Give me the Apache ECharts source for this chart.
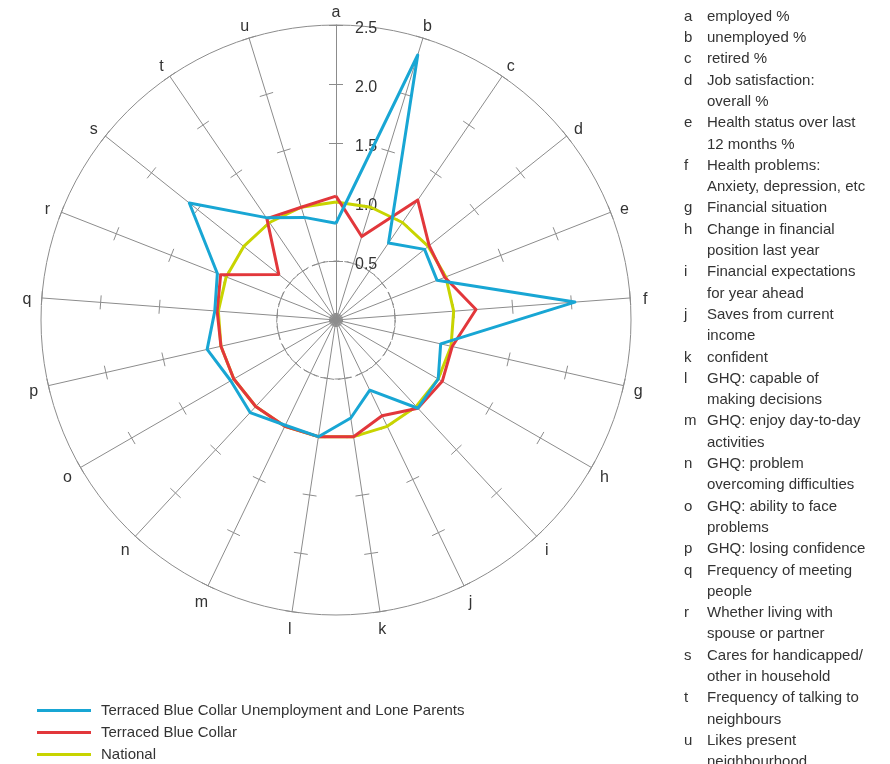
<!DOCTYPE html>
<html>
<head>
<meta charset="utf-8">
<script src="https://cdn.jsdelivr.net/npm/echarts@6/dist/echarts.min.js"></script>
<style>
  html, body { margin: 0; padding: 0; background: #fff; }
  #chart { width: 890px; height: 764px; }
</style>
</head>
<body>
<div id="chart"></div>
<script>
  // axis keys, clockwise from the top
  var axisKeys = ['a','b','c','d','e','f','g','h','i','j','k','l','m','n','o','p','q','r','s','t','u'];
  var axisDescs = [
    'employed %', 'unemployed %', 'retired %', 'Job satisfaction:\noverall %',
    'Health status over last\n12 months %', 'Health problems:\nAnxiety, depression, etc',
    'Financial situation', 'Change in financial\nposition last year',
    'Financial expectations\nfor year ahead', 'Saves from current\nincome', 'confident',
    'GHQ: capable of\nmaking decisions', 'GHQ: enjoy day-to-day\nactivities',
    'GHQ: problem\novercoming difficulties', 'GHQ: ability to face\nproblems',
    'GHQ: losing confidence', 'Frequency of meeting\npeople', 'Whether living with\nspouse or partner',
    'Cares for handicapped/\nother in household', 'Frequency of talking to\nneighbours',
    'Likes present\nneighbourhood'
  ];
  var seriesNames = ['Terraced Blue Collar Unemployment and Lone Parents', 'Terraced Blue Collar', 'National'];
  var blueValues = [0.82, 2.35, 0.79, 0.96, 0.92, 2.03, 0.91, 1.0, 1.02, 0.66, 0.84, 1.0, 0.99, 1.07, 1.03, 1.12, 1.03, 1.08, 1.59, 1.05, 0.91];
  var redValues  = [1.05, 0.74, 1.23, 1.01, 0.99, 1.19, 1.01, 1.04, 1.02, 0.9, 1.0, 1.0, 1.0, 1.0, 1.0, 1.0, 1.01, 1.05, 0.62, 1.04, 1.0];
  var nationalValues = [1, 1, 1, 1, 1, 1, 1, 1, 1, 1, 1, 1, 1, 1, 1, 1, 1, 1, 1, 1, 1];
  var seriesColors = ['#18a6d4', '#e2373b', '#c8d400'];
  var maxValue = 2.5;

  var FONT = 'Liberation Sans';
  var GREY = '#8c8c8c';
  var CLEAR = 'rgba(0,0,0,0)';

  // radar runs anticlockwise, so feed it a, u, t, ... b
  var order = [0];
  for (var i = axisKeys.length - 1; i > 0; i--) order.push(i);
  function reorder(arr) { return order.map(function (k) { return arr[k]; }); }

  var indicators = reorder(axisKeys).map(function (k, idx) {
    var ind = { name: k, max: maxValue, min: 0 };
    if (idx === 0) {
      // scale numbers only on axis a, to the right of it
      ind.axisLabel = {
        show: true, color: '#333', fontSize: 16, fontFamily: FONT,
        margin: -19, align: 'left', verticalAlign: 'middle',
        formatter: function (v) { return v === 0 ? '' : '{v|' + v.toFixed(1) + '}'; },
        rich: { v: { color: '#333', fontSize: 16, fontFamily: FONT, padding: [7, 0, 0, 0] } }
      };
    }
    return ind;
  });
  var plainIndicators = indicators.map(function () { return { name: '', max: maxValue, min: 0 }; });

  var letterCol = [], descCol = [];
  axisKeys.forEach(function (k, i) {
    axisDescs[i].split('\n').forEach(function (ln, j) {
      letterCol.push(j === 0 ? k : ' ');
      descCol.push(ln);
    });
  });

  var chart = echarts.init(document.getElementById('chart'));
  var option = {
    animation: false,
    textStyle: { fontFamily: FONT },
    legend: {
      orient: 'vertical', left: 37, top: 702.5, height: 62, padding: 0,
      itemWidth: 54, itemHeight: 3, itemGap: 6, icon: 'rect',
      textStyle: { fontSize: 15, color: '#333', lineHeight: 16, fontFamily: FONT, padding: [0, 0, 0, 5] },
      data: seriesNames
    },
    radar: [{
      center: [336, 320], radius: 295, startAngle: 90,
      splitNumber: 5, shape: 'circle',
      indicator: indicators,
      axisName: {
        color: '#333', fontSize: 16, fontFamily: FONT, align: 'center', verticalAlign: 'middle',
        formatter: '{n|{value}}',
        rich: { n: { color: '#333', fontSize: 16, fontFamily: FONT, padding: [6, 0, 0, 0] } }
      },
      nameGap: 15,
      axisLine: { lineStyle: { color: GREY, width: 1 } },
      axisTick: { show: true, length: 7, lineStyle: { color: GREY, width: 1 } },
      axisLabel: { show: false },
      splitLine: { lineStyle: { color: [CLEAR, CLEAR, CLEAR, CLEAR, CLEAR, GREY], width: 1 } },
      splitArea: { show: false }
    }, {
      // second layer: dashed 0.5 ring and the other half of each tick
      center: [336, 320], radius: 295, startAngle: 90,
      splitNumber: 5, shape: 'circle',
      indicator: plainIndicators,
      axisName: { show: false },
      axisLine: { show: false },
      axisTick: { show: true, length: -7, lineStyle: { color: GREY, width: 1 } },
      axisLabel: { show: false },
      splitLine: { lineStyle: { color: [CLEAR, GREY, CLEAR, CLEAR, CLEAR, CLEAR], width: 1, type: [6, 5] } },
      splitArea: { show: false }
    }],
    series: [
      { name: seriesNames[2], type: 'radar', radarIndex: 0, symbol: 'none', color: seriesColors[2],
        lineStyle: { color: seriesColors[2], width: 3 }, data: [{ name: seriesNames[2], value: reorder(nationalValues) }] },
      { name: seriesNames[1], type: 'radar', radarIndex: 0, symbol: 'none', color: seriesColors[1],
        lineStyle: { color: seriesColors[1], width: 3 }, data: [{ name: seriesNames[1], value: reorder(redValues) }] },
      { name: seriesNames[0], type: 'radar', radarIndex: 0, symbol: 'none', color: seriesColors[0],
        lineStyle: { color: seriesColors[0], width: 3 }, data: [{ name: seriesNames[0], value: reorder(blueValues) }] }
    ],
    graphic: [{
      type: 'text', left: 684, top: 6,
      style: { text: letterCol.join('\n'), fontSize: 15, lineHeight: 21.3, fill: '#333', fontFamily: FONT }
    }, {
      type: 'text', left: 707, top: 6,
      style: { text: descCol.join('\n'), fontSize: 15, lineHeight: 21.3, fill: '#333', fontFamily: FONT }
    }]
  };
  chart.setOption(option);
</script>
</body>
</html>
